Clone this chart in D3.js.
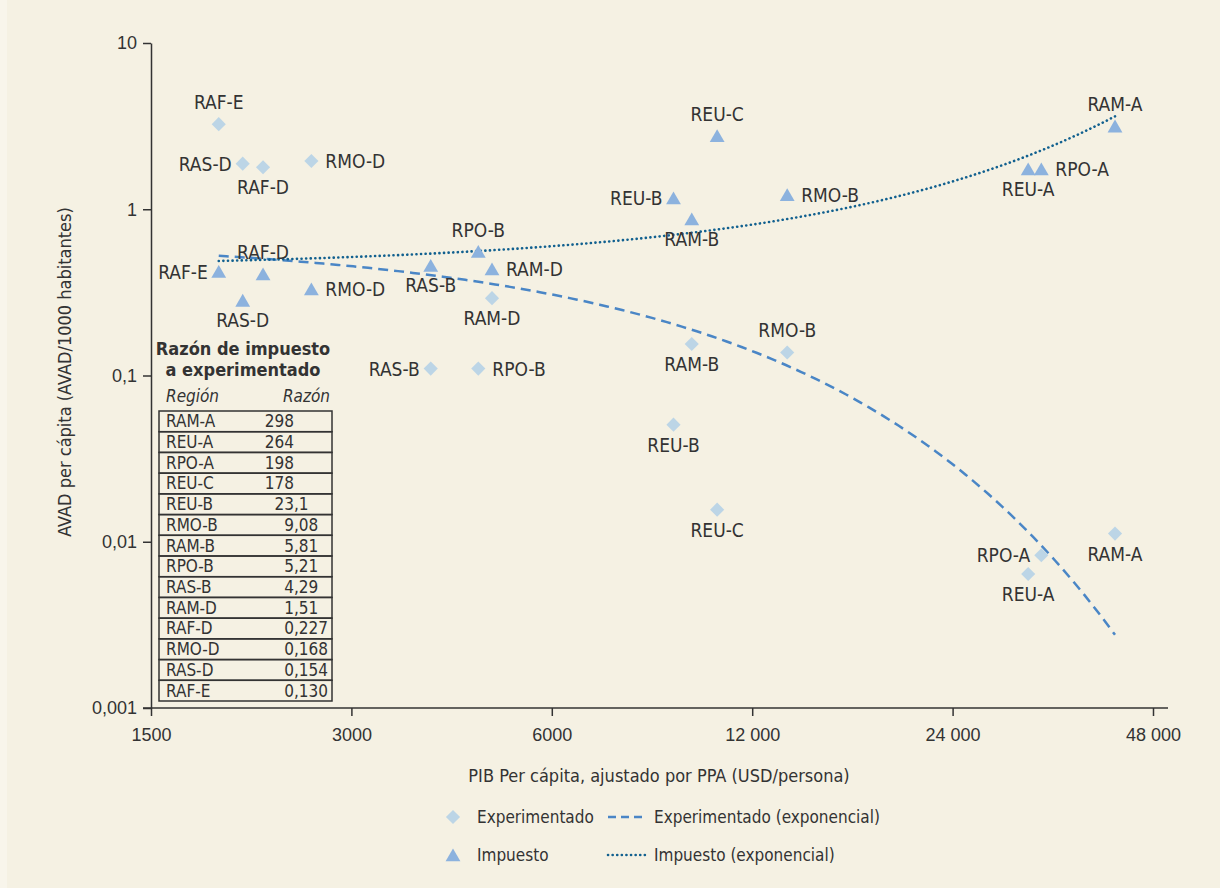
<!DOCTYPE html>
<html>
<head>
<meta charset="utf-8">
<script src="https://cdn.jsdelivr.net/npm/d3@7"></script>
<style>
  body { margin: 0; background: #f5f1e3; }
  svg { display: block; font-family: "Liberation Sans Narrow", "DejaVu Sans Condensed", sans-serif; }
</style>
</head>
<body>
<svg id="chart" width="1220" height="888"></svg>
<script>
// data
const regions = ["RAF-E", "RAS-D", "RAF-D", "RMO-D", "RAS-B", "RPO-B", "RAM-D", "REU-B", "RAM-B", "REU-C", "RMO-B", "REU-A", "RPO-A", "RAM-A"];
const gdp = [1896, 2060, 2210, 2612, 3947, 4653, 4879, 9140, 9736, 10630, 13545, 31170, 32620, 42090];
const experimentado = [3.25, 1.88, 1.79, 1.95, 0.110, 0.110, 0.292, 0.0506, 0.1546, 0.0156, 0.1376, 0.0064, 0.0083, 0.0112];
const impuesto = [0.422, 0.283, 0.408, 0.331, 0.459, 0.557, 0.437, 1.168, 0.873, 2.767, 1.222, 1.745, 1.745, 3.161];

const xTicks = [1500, 3000, 6000, 12000, 24000, 48000];
const yTicks = [10, 1, 0.1, 0.01, 0.001];

const tableRegions = ["RAM-A", "REU-A", "RPO-A", "REU-C", "REU-B", "RMO-B", "RAM-B", "RPO-B", "RAS-B", "RAM-D", "RAF-D", "RMO-D", "RAS-D", "RAF-E"];
const tableRatios = ["298", "264", "198", "178", "23,1", "9,08", "5,81", "5,21", "4,29", "1,51", "0,227", "0,168", "0,154", "0,130"];

// which side of the marker each label sits on (t, b, l, r)
const expSide = {"RAF-E": "t", "RAS-D": "l", "RAF-D": "b", "RMO-D": "r", "RAS-B": "l", "RPO-B": "r", "RAM-D": "b",
  "REU-B": "b", "RAM-B": "b", "REU-C": "b", "RMO-B": "t", "REU-A": "b", "RPO-A": "l", "RAM-A": "b"};
const impSide = {"RAF-E": "l", "RAS-D": "b", "RAF-D": "t", "RMO-D": "r", "RAS-B": "b", "RPO-B": "t", "RAM-D": "r",
  "REU-B": "l", "RAM-B": "b", "REU-C": "t", "RMO-B": "r", "REU-A": "b", "RPO-A": "r", "RAM-A": "t"};

const textColor = "#333",
  expColor = "#bcd5e6",
  impColor = "#8cb2de",
  expLine = "#4a86c6",
  impLine = "#11608f";

const svg = d3.select("#chart");
svg.append("rect").attr("width", 1220).attr("height", 888).attr("fill", "#f5f1e3");
svg.append("rect").attr("width", 7).attr("height", 888).attr("fill", "#f8f5eb");

const x = d3.scaleLog().domain([1500, 48000]).range([151, 1153]);
const y = d3.scaleLog().domain([0.001, 10]).range([708, 43]);

// axes
const fmtY = d => String(d).replace(".", ",");
const fmtX = d => d >= 10000 ? d3.format(",")(d).replace(",", " ") : String(d);

const gx = svg.append("g")
  .attr("transform", "translate(0,708)")
  .call(d3.axisBottom(x).tickValues(xTicks).tickFormat(fmtX).tickSize(8).tickSizeOuter(0).tickPadding(12));
gx.select(".domain").remove();
gx.append("line").attr("x1", 143).attr("x2", 1168).attr("stroke", textColor).attr("stroke-width", 1.5);

const gy = svg.append("g")
  .attr("transform", "translate(151,0)")
  .call(d3.axisLeft(y).tickValues(yTicks).tickFormat(fmtY).tickSize(8).tickSizeOuter(0).tickPadding(6));
gy.select(".domain").attr("stroke-width", 1.5).attr("stroke", textColor);

svg.selectAll(".tick line").attr("stroke", textColor).attr("stroke-width", 1.5);
svg.selectAll(".tick text").attr("font-size", 18).attr("fill", textColor).attr("font-family", null);

svg.append("text")
  .attr("x", 659).attr("y", 782)
  .attr("text-anchor", "middle").attr("font-size", 18).attr("fill", textColor)
  .text("PIB Per cápita, ajustado por PPA (USD/persona)");

svg.append("text")
  .attr("transform", "translate(71,372) rotate(-90)")
  .attr("text-anchor", "middle").attr("font-size", 18).attr("fill", textColor)
  .text("AVAD per cápita (AVAD/1000 habitantes)");

// exponential trend lines (least squares on ln y)
function expFit(xs, ys) {
  const ly = ys.map(Math.log);
  const mx = d3.mean(xs), my = d3.mean(ly);
  const b = d3.sum(xs, (v, i) => (v - mx) * (ly[i] - my)) / d3.sum(xs, v => (v - mx) * (v - mx));
  const a = Math.exp(my - b * mx);
  return v => a * Math.exp(b * v);
}

const xMin = d3.min(gdp), xMax = d3.max(gdp);
const samples = d3.range(0, 121).map(i => xMin * Math.pow(xMax / xMin, i / 120));
const line = d3.line().x(d => x(d[0])).y(d => y(d[1]));

const fitExp = expFit(gdp, experimentado);
const fitImp = expFit(gdp, impuesto);

svg.append("path")
  .attr("d", line(samples.map(v => [v, fitExp(v)])))
  .attr("fill", "none").attr("stroke", expLine).attr("stroke-width", 2.5)
  .attr("stroke-dasharray", "10,6");

svg.append("path")
  .attr("d", line(samples.map(v => [v, fitImp(v)])))
  .attr("fill", "none").attr("stroke", impLine).attr("stroke-width", 2.6)
  .attr("stroke-linecap", "round").attr("stroke-dasharray", "0.1,4.5");

// markers
const diamond = d3.symbol(d3.symbolSquare, 100);
const triangle = d3.symbol(d3.symbolTriangle, 95);

svg.append("g").selectAll("path")
  .data(regions)
  .join("path")
  .attr("d", diamond)
  .attr("transform", (d, i) => `translate(${x(gdp[i])},${y(experimentado[i])}) rotate(45)`)
  .attr("fill", expColor);

svg.append("g").selectAll("path")
  .data(regions)
  .join("path")
  .attr("d", triangle)
  .attr("transform", (d, i) => `translate(${x(gdp[i])},${y(impuesto[i]) + 2})`)
  .attr("fill", impColor);

// labels
function addLabels(values, sides) {
  svg.append("g").selectAll("text")
    .data(regions)
    .join("text")
    .attr("font-size", 19)
    .attr("fill", textColor)
    .each(function (d, i) {
      const px = x(gdp[i]), py = y(values[i]);
      const s = sides[d];
      let tx = px, ty = py + 7, anchor = "middle";
      if (s === "t") ty = py - 15;
      if (s === "b") ty = py + 27;
      if (s === "l") { tx = px - 11; anchor = "end"; }
      if (s === "r") { tx = px + 14; anchor = "start"; }
      d3.select(this).attr("x", tx).attr("y", ty).attr("text-anchor", anchor).text(d);
    });
}
addLabels(experimentado, expSide);
addLabels(impuesto, impSide);

// ratio table
const table = svg.append("g").attr("fill", textColor);
table.append("text").attr("x", 243).attr("y", 355).attr("text-anchor", "middle")
  .attr("font-size", 18).attr("font-weight", "bold").text("Razón de impuesto");
table.append("text").attr("x", 243).attr("y", 376).attr("text-anchor", "middle")
  .attr("font-size", 18).attr("font-weight", "bold").text("a experimentado");
table.append("text").attr("x", 166).attr("y", 402).attr("font-size", 17).attr("font-style", "italic")
  .text("Región");
table.append("text").attr("x", 330).attr("y", 402).attr("text-anchor", "end").attr("font-size", 17)
  .attr("font-style", "italic").text("Razón");

const rowY = d3.scaleBand().domain(tableRegions).range([411, 701]);
const rows = table.selectAll("g.row")
  .data(tableRegions)
  .join("g")
  .attr("class", "row")
  .attr("transform", d => `translate(0,${rowY(d)})`);

rows.append("rect")
  .attr("x", 159).attr("width", 173).attr("height", rowY.bandwidth())
  .attr("fill", "none").attr("stroke", textColor).attr("stroke-width", 1.5);

rows.append("text")
  .attr("x", 166).attr("y", rowY.bandwidth() / 2 + 6)
  .attr("font-size", 17)
  .text(d => d);

rows.each(function (d, i) {
  const parts = tableRatios[i].split(",");
  const g = d3.select(this);
  g.append("text").attr("x", 294).attr("y", rowY.bandwidth() / 2 + 6)
    .attr("text-anchor", "end").attr("font-size", 17).text(parts[0]);
  if (parts[1]) {
    g.append("text").attr("x", 294).attr("y", rowY.bandwidth() / 2 + 6)
      .attr("font-size", 17).text("," + parts[1]);
  }
});

// legend
const legend = svg.append("g").attr("font-size", 17).attr("fill", textColor);
legend.append("path").attr("d", diamond).attr("transform", "translate(453,817) rotate(45)").attr("fill", expColor);
legend.append("text").attr("x", 477).attr("y", 823).text("Experimentado");
legend.append("line").attr("x1", 608).attr("x2", 642).attr("y1", 817).attr("y2", 817)
  .attr("stroke", expLine).attr("stroke-width", 2.5).attr("stroke-dasharray", "8,5");
legend.append("text").attr("x", 654).attr("y", 823).text("Experimentado (exponencial)");

legend.append("path").attr("d", triangle).attr("transform", "translate(453,857)").attr("fill", impColor);
legend.append("text").attr("x", 477).attr("y", 861).text("Impuesto");
legend.append("line").attr("x1", 608).attr("x2", 647).attr("y1", 855).attr("y2", 855)
  .attr("stroke", impLine).attr("stroke-width", 2.6).attr("stroke-linecap", "round").attr("stroke-dasharray", "0.1,4.5");
legend.append("text").attr("x", 654).attr("y", 861).text("Impuesto (exponencial)");
</script>
</body>
</html>
